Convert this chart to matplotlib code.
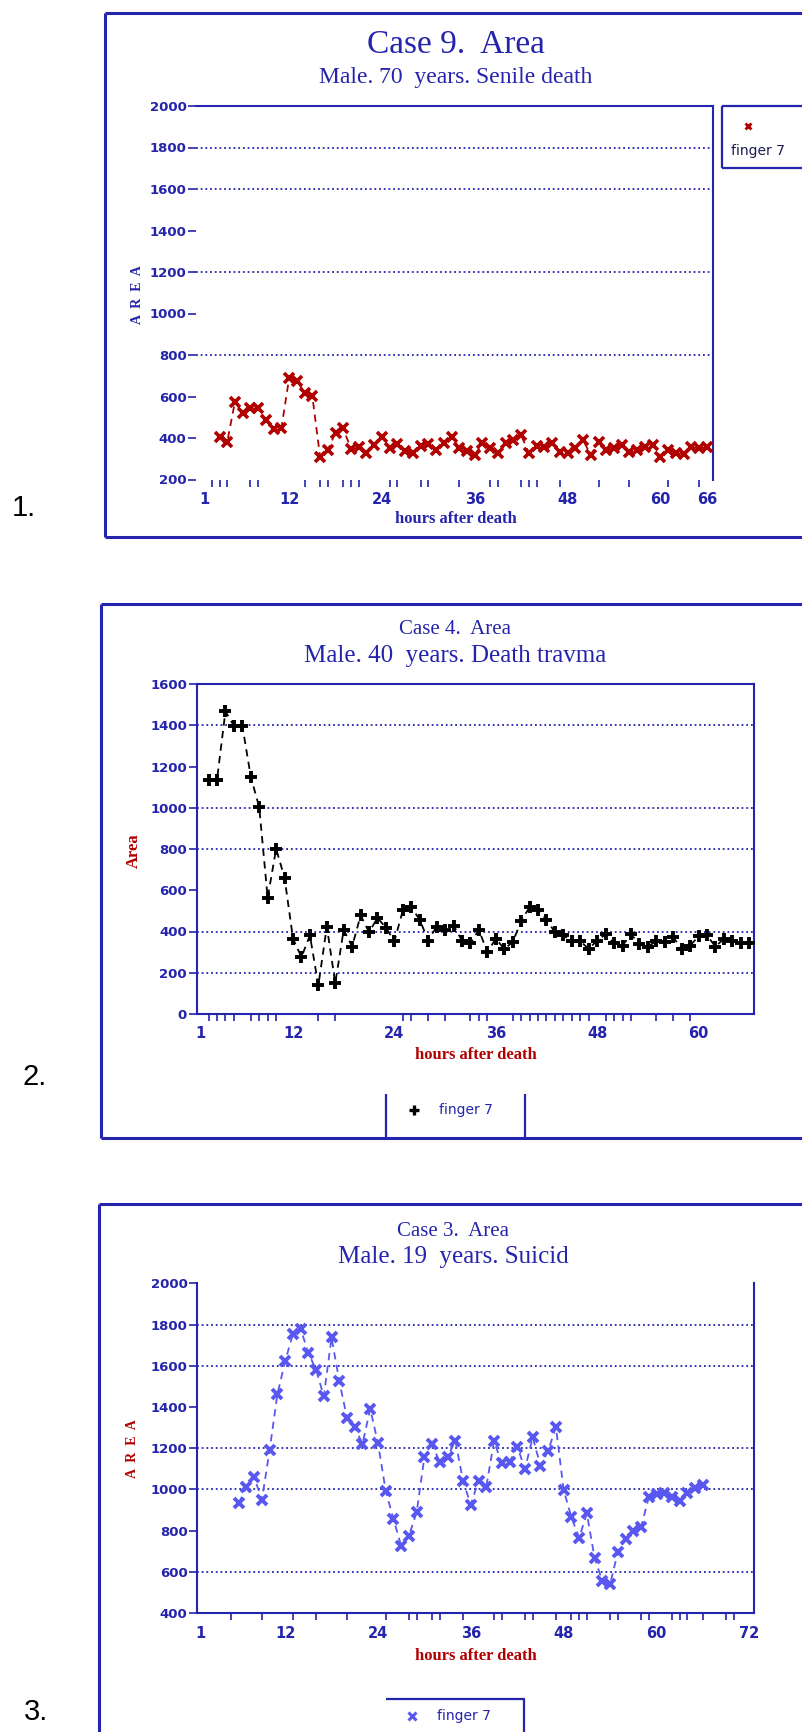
import matplotlib
matplotlib.use('Agg')
import matplotlib.pyplot as plt
from matplotlib.lines import Line2D

W, H = 803, 1732
BLUE = '#2424ac'
RED = '#b00000'
LBLUE = '#5858f0'

# Case 9 (panel 1)
hours_9 = list(range(3, 67))
area_9 = [406, 382, 575, 519, 543, 543, 487, 442, 447, 688, 676, 618, 602, 310,
          342, 426, 447, 345, 355, 326, 366, 406, 350, 371, 339, 326, 361, 371,
          342, 374, 406, 350, 335, 318, 374, 350, 326, 374, 390, 414, 326, 361,
          355, 374, 334, 326, 350, 390, 318, 382, 342, 350, 366, 334, 342, 355,
          366, 310, 342, 326, 323, 355, 350, 355]
xticks_9 = [1, 12, 24, 36, 48, 60, 66]
minor_9 = [2, 3, 4, 7, 8, 12, 14, 16, 17, 19, 20, 21, 24, 25, 26, 29, 30, 34,
           38, 39, 42, 43, 44, 47, 48, 52, 56, 60, 61, 65, 66]
grid_9 = [800, 1200, 1600, 1800]

# Case 4 (panel 2)
hours_4 = list(range(2, 67))
area_4 = [1135, 1135, 1467, 1398, 1398, 1151, 1002, 563, 801, 660, 365, 276,
          381, 139, 424, 150, 408, 327, 478, 397, 466, 418, 353, 502, 518, 457,
          356, 424, 405, 429, 356, 343, 408, 300, 365, 316, 348, 450, 518, 505,
          457, 397, 381, 353, 353, 316, 356, 386, 343, 332, 386, 340, 327, 353,
          348, 372, 316, 332, 376, 381, 327, 365, 356, 343, 343]
xticks_4 = [1, 12, 24, 36, 48, 60]
minor_4 = [1, 2, 3, 4, 5, 7, 8, 9, 10, 15, 17, 25, 26, 28, 30, 33, 34, 35, 36,
           38, 39, 40, 41, 42, 43, 44, 45, 46, 47, 49, 50, 51, 52, 55, 57, 59]
grid_4 = [200, 400, 800, 1000, 1400]

# Case 3 (panel 3)
hours_3 = list(range(6, 67))
area_3 = [932, 1013, 1059, 949, 1192, 1461, 1621, 1753, 1780, 1662, 1581, 1451,
          1737, 1525, 1347, 1302, 1221, 1391, 1224, 994, 856, 726, 775, 888,
          1156, 1218, 1131, 1156, 1237, 1039, 926, 1042, 1013, 1234, 1127, 1131,
          1208, 1099, 1253, 1115, 1188, 1302, 997, 864, 765, 883, 666, 556, 540,
          694, 759, 796, 815, 961, 978, 981, 961, 945, 981, 1007, 1023]
xticks_3 = [1, 12, 24, 36, 48, 60, 72]
minor_3 = [1, 5, 9, 12, 13, 16, 20, 24, 25, 28, 29, 31, 32, 35, 36, 39, 40, 43,
           44, 47, 49, 50, 51, 54, 55, 58, 59, 62, 63, 64, 66, 69, 70, 72]
grid_3 = [600, 1000, 1200, 1600, 1800]

fig = plt.figure(figsize=(W / 100, H / 100), dpi=100)
fig.patch.set_facecolor('white')


def px_axes(l, t, r, b):
    return fig.add_axes([l / W, 1 - b / H, (r - l) / W, (b - t) / H])


def fig_line(xs, ys, color=BLUE, lw=1.6):
    fig.add_artist(Line2D([x / W for x in xs], [1 - y / H for y in ys],
                          transform=fig.transFigure, color=color, lw=lw,
                          solid_capstyle='butt'))


def fig_text(x, y, s, **kw):
    fig.text(x / W, 1 - y / H, s, ha=kw.pop('ha', 'center'),
             va=kw.pop('va', 'center'), **kw)


def setup(ax, xlim, ylim, yticks, xticks, minor, grid, spines):
    ax.set_xlim(*xlim)
    ax.set_ylim(*ylim)
    ax.set_facecolor('none')
    for name, sp in ax.spines.items():
        sp.set_visible(name in spines)
        sp.set_color(BLUE)
        sp.set_linewidth(1.5)
    ax.set_yticks(yticks)
    ax.set_xticks(xticks)
    ax.set_xticks(minor, minor=True)
    ax.tick_params(axis='y', direction='out', length=6, width=1.2, color=BLUE,
                   labelcolor=BLUE, labelsize=9.5, pad=1)
    ax.tick_params(axis='x', which='major', length=0, labelcolor=BLUE,
                   labelsize=10.5, pad=9)
    ax.tick_params(axis='x', which='minor', direction='out', length=5,
                   width=1.2, color=BLUE)
    for lab in ax.get_xticklabels() + ax.get_yticklabels():
        lab.set_fontweight('bold')
    for v in grid:
        ax.axhline(v, color=BLUE, lw=1.3, ls=(0, (1, 1.6)), zorder=1)


serif = 'Liberation Serif'

# ---------------- panel 1 ----------------
fig_line([105, 803], [13, 13], lw=2.2)
fig_line([105, 105], [13, 537], lw=2.2)
fig_line([105, 803], [537, 537], lw=2.2)
fig_text(456, 45, 'Case 9.  Area', color=BLUE, fontsize=24, family=serif)
fig_text(456, 78, 'Male. 70  years. Senile death', color=BLUE, fontsize=17,
         family=serif)
ax1 = px_axes(196.3, 106, 713, 479.5)
setup(ax1, (0, 66.8), (200, 2000), range(200, 2001, 200), xticks_9, minor_9,
      grid_9, ['top', 'right'])
ax1.plot(hours_9, area_9, color=RED, lw=1.3, ls=(0, (4, 3)), marker='x',
         ms=7, mew=2.6, zorder=3, clip_on=False)
fig_text(138, 295, 'A  R  E  A', color=BLUE, fontsize=10, rotation=90,
         family=serif, weight='bold')
fig_text(456, 519, 'hours after death', color=BLUE, fontsize=12,
         family=serif, weight='bold')
fig_line([722, 805], [106, 106], lw=1.6)
fig_line([722, 722], [106, 168], lw=1.6)
fig_line([722, 805], [168, 168], lw=1.6)
fig.add_artist(Line2D([748 / W], [1 - 126 / H], transform=fig.transFigure,
                      marker='x', color=RED, ms=5, mew=2, ls='none'))
fig_text(731, 151, 'finger 7', ha='left', color='#1c1c50', fontsize=10)
fig_text(24, 508, '1.', color='black', fontsize=21, family='Liberation Sans')

# ---------------- panel 2 ----------------
fig_line([101, 803], [604, 604], lw=2.2)
fig_line([101, 101], [604, 1138], lw=2.2)
fig_line([101, 803], [1138, 1138], lw=2.2)
fig_text(455, 630, 'Case 4.  Area', color=BLUE, fontsize=15, family=serif)
fig_text(455, 656, 'Male. 40  years. Death travma', color=BLUE, fontsize=18,
         family=serif)
ax2 = px_axes(196.7, 684, 754.3, 1014)
setup(ax2, (0.6, 66.6), (0, 1600), range(0, 1601, 200), xticks_4, minor_4,
      grid_4, ['top', 'right', 'left', 'bottom'])
ax2.plot(hours_4, area_4, color='black', lw=1.3, ls=(0, (4, 3)), marker='+',
         ms=9, mew=2.8, zorder=3)
fig_text(134, 851, 'Area', color=RED, fontsize=12, rotation=90,
         family=serif, weight='bold')
fig_text(476, 1055, 'hours after death', color=RED, fontsize=12,
         family=serif, weight='bold')
fig_line([386, 386], [1094, 1138], lw=1.6)
fig_line([525, 525], [1094, 1138], lw=1.6)
fig.add_artist(Line2D([414 / W], [1 - 1110 / H], transform=fig.transFigure,
                      marker='+', color='black', ms=7, mew=2.4, ls='none'))
fig_text(439, 1110, 'finger 7', ha='left', color=BLUE, fontsize=10)
fig_text(35, 1077, '2.', color='black', fontsize=21, family='Liberation Sans')

# ---------------- panel 3 ----------------
fig_line([99, 803], [1204, 1204], lw=2.2)
fig_line([99, 99], [1204, 1732], lw=2.2)
fig_text(453, 1231, 'Case 3.  Area', color=BLUE, fontsize=15, family=serif)
fig_text(453, 1257, 'Male. 19  years. Suicid', color=BLUE, fontsize=18,
         family=serif)
ax3 = px_axes(197.3, 1283.3, 754, 1613)
setup(ax3, (0.65, 72.6), (400, 2000), range(400, 2001, 200), xticks_3,
      minor_3, grid_3, ['right', 'left', 'bottom'])
ax3.plot(hours_3, area_3, color=LBLUE, lw=1.3, ls=(0, (4, 3)), marker='x',
         ms=7, mew=2.8, zorder=3)
fig_text(133, 1449, 'A  R  E  A', color=RED, fontsize=10, rotation=90,
         family=serif, weight='bold')
fig_text(476, 1656, 'hours after death', color=RED, fontsize=12,
         family=serif, weight='bold')
fig_line([386, 525], [1699, 1699], lw=1.6)
fig_line([524, 524], [1699, 1732], lw=1.6)
fig.add_artist(Line2D([412 / W], [1 - 1716 / H], transform=fig.transFigure,
                      marker='x', color=LBLUE, ms=6, mew=2.2, ls='none'))
fig_text(437, 1716, 'finger 7', ha='left', color=BLUE, fontsize=10)
fig_text(36, 1712, '3.', color='black', fontsize=21, family='Liberation Sans')

fig.savefig('out.png', dpi=100)
